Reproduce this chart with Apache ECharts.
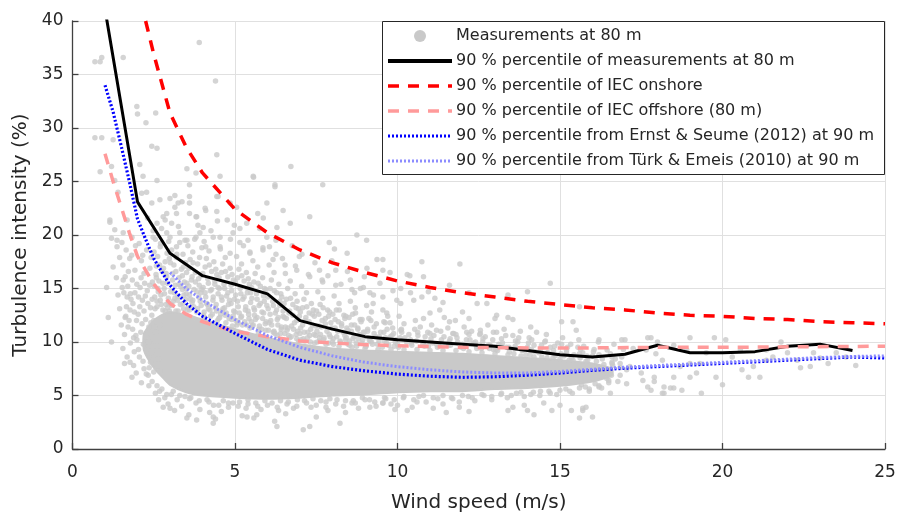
<!DOCTYPE html>
<html>
<head>
<meta charset="utf-8">
<script src="https://cdn.jsdelivr.net/npm/echarts@6/dist/echarts.min.js"></script>
<style>html,body{margin:0;padding:0;background:#fff}#c{width:899px;height:515px}</style>
</head>
<body>
<div id="c"></div>
<script>
// ---- data ----
var xTicks = [0, 5, 10, 15, 20, 25];
var yTicks = [0, 5, 10, 15, 20, 25, 30, 35, 40];

var names = [
  'Measurements at 80 m',
  '90 % percentile of measurements at 80 m',
  '90 % percentile of IEC onshore',
  '90 % percentile of IEC offshore (80 m)',
  '90 % percentile from Ernst & Seume (2012) at 90 m',
  '90 % percentile from Türk & Emeis (2010) at 90 m'
];

// dense core of the measurement cloud (where the dots merge into a solid area)
var coreX    = [2.2, 2.5, 2.8, 3, 3.5, 4, 5, 6, 7, 8, 9, 10, 11, 12, 13, 14, 15, 16, 16.6];
var coreHigh = [10.8, 12.0, 12.6, 12.8, 12.5, 12.1, 11.2, 10.4, 9.8, 9.4, 9.2, 9.1, 9.0, 8.9, 8.7, 8.5, 8.3, 8.0, 7.5];
var coreLow  = [9.2, 7.6, 6.6, 6.0, 5.3, 5.0, 4.8, 4.7, 4.8, 5.0, 5.1, 5.3, 5.4, 5.4, 5.6, 5.7, 5.9, 6.3, 6.9];

// individual measurement dots outside / around the dense core
var measurements = [
[0.69,36.2],[0.9,36.6],[0.85,36.2],[1.56,36.6],[3.9,38.0],[4.4,34.4],[1.98,32.0],[2.0,31.3],[2.56,31.4],[2.26,30.5],
[0.69,29.1],[0.9,29.1],[1.25,28.9],[2.44,28.3],[2.6,28.1],[2.07,26.6],[4.44,27.5],[0.85,25.9],[2.17,25.5],[2.6,25.1],
[3.52,26.2],[3.8,25.8],[4.54,25.5],[5.56,25.5],[6.72,26.4],[6.23,24.5],[5.98,23.0],[4.48,23.6],[4.44,22.2],[5.05,22.6],
[5.15,20.6],[5.4,19.5],[5.7,22.0],[5.87,21.6],[6.29,20.7],[6.26,19.5],
[1.2,26.4],[1.3,25.1],[1.4,24.0],[2.13,23.9],[2.28,24.0],[2.69,23.3],[2.44,23.0],[3.0,23.4],[3.15,22.6],[3.37,23.1],
[3.6,23.6],[2.79,21.7],[2.85,21.4],[3.2,22.0],[3.82,21.7],[4.02,20.7],[1.15,21.2],[1.3,20.5],[1.37,19.5],[1.56,20.2],
[1.68,21.4],[1.83,19.8],[2.9,20.2],[3.3,20.2],[3.52,19.5],[3.92,20.2],[4.33,19.8],[4.54,18.9],[4.94,20.2],
[1.15,21.4],[1.2,19.7],[1.37,18.9],[1.45,17.9],[1.56,15.8],[1.53,15.1],[1.68,14.2],[1.4,14.4],[1.77,13.0],[1.71,11.4],
[1.2,10.0],[1.77,8.1],[1.83,6.7],[1.62,12.3],[1.98,10.2],
[3.15,23.7],[3.25,23.0],[3.6,22.0],[3.8,21.7],[4.1,22.3],[3.6,24.7],[2.9,22.0],[2.48,19.8],[2.6,21.1],[3.0,19.8],
[3.2,18.9],[3.46,19.5],[3.8,19.8],[4.1,18.9],[4.54,19.8],[4.85,18.3],[5.15,19.3],[5.46,18.3],[5.86,18.8],[6.17,17.7],
[6.54,17.2],[6.9,16.7],[7.3,16.1],[7.7,15.6],[8.1,15.3],[8.6,14.9],[9.15,14.6],[9.55,14.2],
[5.57,25.4],[6.23,24.7],[7.7,24.7],[7.3,21.7],[8.75,20.0],[9.05,19.5],[9.37,17.7],[9.55,16.7],[8.45,18.3],[7.9,19.3],
[7.6,16.7],[8.1,16.7],[8.55,15.8],[8.95,15.1],[9.25,13.6],[6.7,21.1],[6.48,22.3],[5.36,21.1],[4.85,23.0],[4.44,23.6],
[3.6,23.0],[3.05,21.1],
[9.55,17.7],[10.75,17.5],[11.92,17.3],[14.7,15.5],[9.77,16.5],[10.3,16.3],[10.38,16.2],[10.8,16.1],[11.6,15.3],[10.1,15.0],
[10.4,14.6],[10.75,14.2],[10.95,14.7],[11.15,14.1],[11.4,13.7],[10.1,13.6],[10.5,13.9],[11.0,12.7],[11.3,13.0],[10.8,12.2],
[11.6,11.9],[12.0,12.8],[12.2,12.2],[13.05,12.5],[13.0,12.2],[13.4,12.3],[13.55,12.1],[13.4,14.4],[14.0,14.7],[14.1,11.4],
[15.05,11.9],[15.4,11.9],[15.5,11.1],[12.95,10.9],[12.55,10.8],[11.8,10.7],[11.0,10.8],[10.1,11.1],[9.67,12.7],[9.77,11.8],
[12.2,14.6],[12.45,13.6],[12.75,13.6],[15.6,13.3],[17.0,10.2],[17.7,10.4],[18.0,10.0],[18.5,9.7],[19.0,10.4],[16.45,9.25],
[16.6,8.6],[16.85,8.0],[17.05,7.4],[17.5,7.1],[17.9,6.7],[17.9,6.3],[18.2,5.8],[18.5,5.7],[18.75,5.5],[18.2,5.2],
[17.7,5.8],[17.55,6.4],[19.0,6.7],[19.2,7.1],
[13.9,4.1],[14.0,3.6],[14.2,3.2],[14.5,4.3],[14.75,3.6],[15.0,4.1],[15.35,3.6],[15.6,2.9],[15.7,3.8],[13.4,3.6],
[13.55,3.9],[12.2,3.5],[11.9,3.9],[11.5,3.4],[11.1,3.8],[10.45,3.9],[10.6,4.4],[10.0,4.1],[9.55,4.3],
[2.05,19.2],[2.12,17.6],[2.2,16.4],[2.08,15.1],[2.3,14.8],[2.15,13.9],[2.4,13.2],[2.02,12.6],[2.25,12.1],[2.35,11.4],
[2.1,10.9],[2.45,10.3],[2.18,9.8],[2.3,9.2],[2.06,8.6],[2.4,8.1],[2.2,7.5],[2.33,6.9],[2.12,6.2],[2.42,17.9],
[2.28,18.6],[2.38,16.9],[2.46,15.6],[2.22,15.5],[2.03,14.2],[2.44,12.5],[2.14,11.7],[2.26,10.5],[2.48,9.6],[2.36,7.6],
[2.48,20.4],[2.31,21.6],
[1.55,17.2],[1.62,16.1],[1.7,15.2],[1.58,14.6],[1.8,14.0],[1.66,13.3],[1.9,12.8],[1.74,12.0],[1.85,11.2],[1.6,10.7],
[1.95,10.6],[1.78,9.9],[1.9,9.1],[1.68,8.6],[1.88,7.8],[1.96,7.1],[1.82,18.1],[1.92,16.7],[1.76,17.8],[1.98,15.4],
[1.86,13.6],[1.64,12.4],[1.94,19.0],[1.52,19.3],
[2.55,19.6],[2.7,18.9],[2.62,18.0],[2.85,17.5],[2.58,17.1],[2.76,16.6],[2.9,16.1],[2.66,15.7],[2.52,15.2],[2.82,15.0],
[2.72,14.4],[2.95,14.1],[2.6,13.8],[2.88,13.5],[2.78,13.0],[2.54,13.1],[2.98,12.9],[2.68,5.4],[2.84,4.8],[2.94,4.2],
[2.6,5.9],[2.74,20.6],[2.96,19.4],[2.57,16.3],[2.8,16.9],[2.92,15.5],[2.64,14.7],
[3.05,18.6],[3.2,17.9],[3.12,17.2],[3.35,16.8],[3.08,16.4],[3.28,16.0],[3.44,15.6],[3.16,15.3],[3.38,14.9],[3.02,14.7],
[3.24,14.3],[3.48,14.0],[3.1,13.8],[3.32,13.5],[3.42,13.1],[3.18,12.9],[3.04,5.1],[3.22,4.6],[3.36,4.0],[3.14,3.6],
[3.46,4.9],[3.3,19.3],[3.4,18.2],[3.26,20.8],[3.48,17.4],
[3.55,19.0],[3.7,18.4],[3.62,17.7],[3.85,17.3],[3.58,16.9],[3.78,16.5],[3.95,16.2],[3.66,15.8],[3.52,15.5],[3.9,15.3],
[3.74,14.9],[3.6,14.4],[3.88,14.2],[3.68,13.7],[3.96,13.4],[3.56,13.2],[3.82,12.8],[3.72,12.2],[3.64,4.8],[3.8,4.3],
[3.92,3.7],[3.58,3.2],[3.86,20.9],[3.98,18.8],[3.76,19.6],
[4.05,19.4],[4.2,18.5],[4.12,17.8],[4.35,17.5],[4.08,17.0],[4.28,16.6],[4.44,16.3],[4.16,15.9],[4.38,15.4],[4.02,15.1],
[4.24,14.8],[4.48,14.5],[4.1,14.2],[4.32,13.9],[4.42,13.5],[4.18,13.1],[4.3,12.6],[4.06,12.3],[4.46,12.0],[4.14,4.6],
[4.34,4.1],[4.22,3.4],[4.4,2.8],[4.26,20.4],[4.46,21.3],[4.08,22.5],
[4.55,18.7],[4.7,17.9],[4.62,17.3],[4.85,16.9],[4.58,16.5],[4.78,16.1],[4.95,15.8],[4.66,15.4],[4.52,15.0],[4.9,14.8],
[4.74,14.3],[4.6,13.9],[4.88,13.6],[4.68,13.2],[4.96,12.9],[4.56,12.6],[4.82,12.2],[4.72,11.8],[4.92,11.5],[4.64,4.5],
[4.8,3.9],[4.94,4.3],[4.58,3.5],[4.86,19.6],[4.98,20.9],[4.76,21.4],
[5.05,18.0],[5.2,17.3],[5.12,16.8],[5.35,16.5],[5.08,16.0],[5.28,15.7],[5.44,15.4],[5.16,15.0],[5.38,14.6],[5.02,14.4],
[5.24,14.0],[5.48,13.7],[5.1,13.3],[5.32,13.0],[5.42,12.6],[5.18,12.3],[5.3,11.9],[5.06,11.6],[5.46,11.3],[5.14,4.4],
[5.34,3.8],[5.22,3.1],[5.4,4.6],[5.26,19.0],[5.46,18.4],
[5.55,17.6],[5.7,17.0],[5.62,16.4],[5.85,16.0],[5.58,15.6],[5.78,15.2],[5.95,14.9],[5.66,14.5],[5.52,14.1],[5.9,13.8],
[5.74,13.4],[5.6,13.0],[5.88,12.7],[5.68,12.3],[5.96,11.9],[5.56,11.6],[5.82,11.2],[5.72,10.8],[5.64,4.3],[5.8,3.7],
[5.92,4.5],[5.58,2.9],[5.86,18.6],[5.98,19.8],[5.76,20.6],
[6.05,17.2],[6.2,16.5],[6.12,15.8],[6.35,15.4],[6.08,15.0],[6.28,14.6],[6.44,14.2],[6.16,13.8],[6.38,13.4],[6.02,13.1],
[6.24,12.7],[6.48,12.4],[6.1,12.0],[6.32,11.6],[6.42,11.2],[6.18,10.9],[6.3,10.6],[6.14,4.3],[6.34,3.6],[6.22,2.6],
[6.4,4.5],[6.26,18.2],[6.46,17.8],[6.06,18.9],
[6.55,16.4],[6.7,15.7],[6.62,15.0],[6.85,14.5],[6.58,14.0],[6.78,13.5],[6.95,13.1],[6.66,12.7],[6.52,12.3],[6.9,12.0],
[6.74,11.5],[6.6,11.1],[6.88,10.7],[6.68,10.4],[6.96,10.1],[6.64,4.4],[6.8,3.8],[6.92,4.6],[6.56,3.3],[6.86,17.1],
[6.98,18.0],[6.76,19.0],
[7.05,15.2],[7.2,14.6],[7.12,14.0],[7.35,13.6],[7.08,13.2],[7.28,12.7],[7.44,12.4],[7.16,12.0],[7.38,11.6],[7.02,11.3],
[7.24,10.9],[7.48,10.6],[7.1,10.3],[7.32,10.0],[7.14,4.5],[7.34,3.9],[7.4,4.7],[7.26,16.3],[7.46,17.4],[7.06,18.2],
[7.55,14.7],[7.7,14.1],[7.62,13.5],[7.85,13.0],[7.58,12.6],[7.78,12.2],[7.95,11.8],[7.66,11.4],[7.52,11.0],[7.9,10.7],
[7.74,10.4],[7.6,10.1],[7.88,9.9],[7.64,4.5],[7.8,3.9],[7.92,4.7],[7.86,16.2],[7.98,17.6],[7.68,15.8],
[8.05,14.3],[8.2,13.6],[8.12,13.0],[8.35,12.5],[8.08,12.1],[8.28,11.7],[8.44,11.3],[8.16,11.0],[8.38,10.6],[8.02,10.3],
[8.24,10.0],[8.48,9.8],[8.14,4.6],[8.34,4.0],[8.4,3.4],[8.26,15.4],[8.46,16.6],[8.06,18.7],
[8.55,13.8],[8.7,13.2],[8.62,12.6],[8.85,12.1],[8.58,11.6],[8.78,11.2],[8.95,10.9],[8.66,10.5],[8.52,10.1],[8.9,9.9],
[8.74,9.6],[8.64,4.5],[8.8,3.8],[8.92,4.8],[8.86,15.0],[8.98,16.1],[8.68,14.6],
[9.05,13.4],[9.2,12.8],[9.12,12.2],[9.35,11.7],[9.08,11.2],[9.28,10.8],[9.44,10.5],[9.16,10.1],[9.38,9.8],[9.02,9.6],
[9.14,4.6],[9.34,4.0],[9.26,14.4],[9.46,15.5],[9.06,16.9],
[9.55,13.0],[9.7,12.4],[9.62,11.8],[9.85,11.3],[9.58,10.9],[9.78,10.5],[9.95,10.2],[9.66,9.9],[9.9,9.6],[9.64,4.7],
[9.8,4.2],[9.92,3.7],[9.86,14.8],[9.98,13.9],
[10.05,12.4],[10.2,11.7],[10.12,11.2],[10.35,10.7],[10.08,10.4],[10.28,10.0],[10.44,9.7],[10.18,4.8],[10.3,3.6],
[10.55,12.0],[10.7,11.4],[10.62,10.9],[10.85,10.5],[10.58,10.1],[10.78,9.8],[10.95,9.6],[10.66,4.9],[10.88,4.4],
[11.05,11.6],[11.2,11.1],[11.12,10.6],[11.35,10.2],[11.08,9.9],[11.28,9.6],[11.44,12.3],[11.24,4.7],[11.4,4.2],
[11.55,11.3],[11.7,10.8],[11.62,10.3],[11.85,10.0],[11.58,9.7],[11.78,12.0],[11.95,9.5],[11.66,4.8],[11.9,4.4],
[12.05,11.4],[12.2,10.7],[12.12,10.2],[12.35,9.9],[12.08,9.6],[12.28,11.0],[12.44,9.4],[12.18,4.9],[12.38,4.5],
[12.55,11.1],[12.7,10.5],[12.62,10.0],[12.85,9.7],[12.58,9.4],[12.78,11.6],[12.95,9.3],[12.66,5.0],[12.9,4.6],
[13.05,10.9],[13.2,10.3],[13.12,9.8],[13.35,9.5],[13.08,9.2],[13.28,11.2],[13.44,9.1],[13.18,5.1],[13.38,4.8],
[13.55,10.6],[13.7,10.0],[13.62,9.6],[13.85,9.2],[13.58,8.9],[13.78,11.0],[13.95,8.8],[13.66,5.2],[13.9,4.9],
[14.05,10.4],[14.2,9.7],[14.12,9.3],[14.35,9.0],[14.08,8.8],[14.28,10.9],[14.44,8.6],[14.18,5.3],[14.38,5.0],
[14.55,10.1],[14.7,9.5],[14.62,9.0],[14.85,8.7],[14.58,10.7],[14.78,8.5],[14.66,5.4],[14.9,5.1],
[15.05,9.8],[15.2,9.2],[15.12,8.7],[15.35,8.5],[15.08,10.4],[15.28,8.3],[15.18,5.6],[15.38,5.2],
[15.55,9.5],[15.7,9.0],[15.62,8.5],[15.85,8.3],[15.58,10.2],[15.78,5.8],[15.9,5.4],[15.66,6.0],
[16.05,9.3],[16.2,8.8],[16.12,8.2],[16.35,7.9],[16.08,6.1],[16.28,5.7],[16.44,6.6],[16.18,10.0],
[16.55,8.9],[16.7,8.4],[16.62,7.8],[16.85,7.6],[16.58,6.9],[16.78,6.3],[16.95,9.3],[16.66,9.8],
[16.2,10.2],[16.9,10.2],[17.25,9.4],[16.9,8.6],[16.6,8.0],[17.15,7.7],[16.85,6.9],[16.5,6.4],[16.2,5.8],[16.55,5.2],
[17.05,6.1],[17.65,9.25],[17.8,10.4],[17.95,8.9],[18.15,8.3],[17.8,5.5],[18.15,5.2],[18.4,5.7],[18.7,7.7],[18.5,6.7],
[19.0,8.0],[18.9,9.25],[19.35,5.2],[19.3,8.0],[19.75,10.4],[19.8,6.7],[20.0,6.0],[20.3,8.6],[20.6,7.4],[20.95,7.7],
[21.15,6.7],[21.8,10.0],[21.35,8.3],[22.0,9.0],[22.3,8.3],[22.4,7.6],[22.8,9.0],[23.0,8.5],[23.25,8.0],[23.5,9.0],
[23.8,8.6],[24.1,7.8],[22.7,7.7],[21.55,8.6],[20.55,9.25],[20.8,6.7],[16.0,3.0],[15.8,3.9],[15.7,3.6],[19.5,9.0],
[20.1,10.2],[21.35,9.25],
[2.79,3.9],[3.0,3.8],[3.52,2.9],[3.82,2.7],[4.33,3.0],[4.33,2.4],[5.37,3.0],[5.67,3.2],[6.29,2.1],[7.1,1.8],
[7.3,2.1],[7.5,3.0],[8.23,2.4],[7.86,3.6],[8.6,4.3],[9.15,3.9],[9.55,4.3],
[2.6,13.3],[2.7,13.9],[2.85,12.9],[2.95,13.7],[3.05,13.4],[3.15,14.1],[3.25,12.9],[3.4,13.6],[3.5,14.5],[3.6,13.0],
[3.7,13.9],[3.85,13.1],[3.95,14.6],[4.05,12.8],[4.15,13.5],[4.25,12.4],[4.4,13.2],[4.5,12.2],[4.6,12.9],[4.7,12.5],
[4.8,13.5],[4.9,12.1],[5.0,12.8],[5.1,11.8],[5.2,12.4],[5.35,11.6],[5.4,12.9],[5.5,11.9],[5.6,12.5],[5.75,11.5],
[5.85,12.2],[5.95,11.1],[6.05,11.8],[6.2,11.0],[6.3,12.1],[6.4,10.8],[6.55,11.4],[6.65,10.6],[6.8,11.2],[6.9,10.3],
[7.0,10.8],[7.15,10.1],[7.3,10.6],[7.45,9.9],[7.6,10.4],[7.8,9.8],[8.0,10.0],[8.2,9.6],[8.4,10.2],[8.6,9.5],
[8.8,10.3],[9.0,9.4],[9.2,10.0],[9.4,9.3],[9.6,10.1],[9.8,9.3],[10.0,9.8],[10.2,9.3],[10.4,10.2],[10.6,9.3],
[10.8,10.0],[11.0,9.2],[11.2,9.8],[11.4,9.2],[11.6,10.1],[11.8,9.2],[12.0,9.8],[12.2,9.1],[12.4,10.0],[12.6,9.0],
[12.8,9.7],[13.0,8.9],[13.2,9.6],[13.4,8.8],[13.6,9.4],[13.8,8.7],[14.0,9.5],[14.2,8.6],[14.4,9.3],[14.6,8.5],
[14.8,9.2],[15.0,8.4],[15.2,9.0],[15.4,8.3],[15.6,8.9],[15.8,8.2],[16.0,8.7],[16.3,8.4],[16.6,8.1],
[3.1,5.4],[3.3,5.0],[3.6,4.7],[3.9,4.5],[4.2,4.4],[4.5,4.1],[4.8,4.3],[5.1,4.0],[5.4,4.2],[5.7,4.0],
[6.0,4.1],[6.3,3.9],[6.6,4.2],[6.9,4.0],[7.2,4.3],[7.5,4.1],[7.8,4.4],[8.1,4.2],[8.4,4.5],[8.7,4.3],
[9.0,4.6],[9.3,4.4],[9.6,4.8],[9.9,4.6],[10.2,4.9],[10.5,4.6],[10.8,5.0],[11.1,4.8],[11.4,5.0],[11.7,4.7],
[12.0,5.0],[12.3,4.8],[12.6,5.1],[12.9,4.9],[13.2,5.2],[13.5,5.0],[13.8,5.3],[14.1,5.1],[14.4,5.4],[14.7,5.2],
[15.0,5.5],[15.3,5.4],[15.6,5.7],[15.9,5.6],[16.2,5.9],[16.5,6.2],
[2.53,14.2],[2.63,15.0],[2.73,13.5],[2.83,14.5],[2.93,13.2],[2.58,16.0],[2.68,17.2],[2.78,15.5],[2.88,16.4],[2.98,17.8],
[2.51,18.4],[2.71,19.2],[2.91,18.3],
[3.03,13.5],[3.13,14.6],[3.23,13.9],[3.33,15.2],[3.43,14.4],[3.08,15.8],[3.18,16.6],[3.28,15.4],[3.38,16.2],[3.48,15.0],
[3.01,17.4],[3.21,18.2],[3.41,17.0],
[3.53,13.0],[3.63,14.0],[3.73,13.3],[3.83,14.7],[3.93,13.8],[3.58,15.2],[3.68,16.1],[3.78,15.6],[3.88,15.9],[3.98,14.9],
[3.51,16.5],[3.71,17.4],[3.91,17.9],
[4.03,12.5],[4.13,13.6],[4.23,13.0],[4.33,14.2],[4.43,12.9],[4.08,14.6],[4.18,15.5],[4.28,14.9],[4.38,15.7],[4.48,15.1],
[4.01,16.4],[4.21,17.2],[4.41,16.8],
[4.53,12.3],[4.63,13.1],[4.73,12.7],[4.83,13.9],[4.93,12.4],[4.58,14.2],[4.68,15.0],[4.78,14.6],[4.88,15.3],[4.98,14.0],
[4.51,16.0],[4.71,16.6],[4.91,16.3],
[5.03,12.0],[5.13,12.7],[5.23,11.6],[5.33,13.3],[5.43,12.2],[5.08,13.8],[5.18,14.5],[5.28,14.2],[5.38,15.0],[5.48,14.6],
[5.01,15.6],[5.21,16.2],[5.41,15.9],
[5.53,11.5],[5.63,12.1],[5.73,11.2],[5.83,12.8],[5.93,11.7],[5.58,13.2],[5.68,14.0],[5.78,13.6],[5.88,14.3],[5.98,13.4],
[5.51,15.1],[5.71,15.5],[5.91,15.0],
[6.03,11.1],[6.13,11.6],[6.23,10.8],[6.33,12.3],[6.43,11.4],[6.08,12.6],[6.18,13.4],[6.28,13.0],[6.38,13.8],[6.48,12.9],
[6.01,14.2],[6.21,14.8],[6.41,14.5],
[6.53,10.8],[6.63,11.3],[6.73,10.5],[6.83,11.8],[6.93,11.0],[6.58,12.2],[6.68,12.9],[6.78,12.5],[6.88,13.2],[6.98,12.4],
[6.51,13.6],[6.71,14.1],[6.91,13.8],
[7.03,10.2],[7.13,10.9],[7.23,10.4],[7.33,11.2],[7.43,10.7],[7.08,11.6],[7.18,12.3],[7.28,11.9],[7.38,12.6],[7.48,11.5],
[7.01,12.8],[7.21,13.3],[7.41,13.0],
[7.53,10.0],[7.63,10.7],[7.73,10.2],[7.83,11.0],[7.93,10.5],[7.58,11.5],[7.68,12.0],[7.78,11.7],[7.88,12.4],[7.98,11.3],
[7.51,12.9],[7.71,13.2],[7.91,12.8],
[8.03,9.8],[8.13,10.5],[8.23,10.1],[8.33,10.9],[8.43,10.4],[8.08,11.3],[8.18,11.9],[8.28,11.5],[8.38,12.2],[8.48,11.1],
[8.01,12.6],[8.21,13.0],[8.41,12.4],
[8.53,9.7],[8.63,10.3],[8.73,9.9],[8.83,10.7],[8.93,10.2],[8.58,11.0],[8.68,11.6],[8.78,11.3],[8.88,11.9],[8.98,10.9],
[8.51,12.3],[8.71,12.7],[8.91,12.1],
[9.03,9.6],[9.13,10.2],[9.23,9.8],[9.33,10.5],[9.43,10.1],[9.53,9.5],[9.63,10.4],[9.73,9.7],[9.83,10.6],[9.93,10.0],
[9.08,11.0],[9.28,11.4],[9.48,10.9],[9.68,11.2],[9.88,10.8],[9.18,12.0],[9.58,11.9],
[10.03,9.5],[10.23,10.4],[10.43,9.9],[10.63,10.6],[10.83,9.6],[11.03,10.3],[11.23,9.5],[11.43,10.5],[11.63,9.7],[11.83,10.4],
[12.03,9.4],[12.23,10.2],[12.43,9.6],[12.63,10.3],[12.83,9.4],[10.13,10.9],[10.53,11.2],[10.93,10.9],[11.33,11.0],[11.73,10.8],
[12.13,10.9],[12.53,10.7],[12.93,10.2],
[13.03,9.3],[13.23,9.9],[13.43,9.5],[13.63,10.1],[13.83,9.2],[14.03,9.9],[14.23,9.1],[14.43,9.7],[14.63,9.0],[14.83,9.6],
[15.03,8.9],[15.23,9.5],[15.43,8.8],[15.63,9.3],[15.83,8.7],[16.03,9.1],[13.33,10.6],[13.73,10.4],[14.13,10.2],[14.53,10.0],
[14.93,9.9],[15.33,9.8],[15.73,9.6],
[1.05,15.1],[1.1,12.3],[1.25,17.0],[1.35,16.0],[1.45,13.1],[1.5,11.6],[1.55,9.4],[1.6,8.0],[1.65,18.6],[1.72,16.6],
[1.78,14.5],[1.84,15.8],[1.88,10.4],[1.92,14.6],[1.97,12.0],[2.03,9.3],[2.07,13.3],[2.11,16.0],[2.16,18.1],[2.2,12.9],
[2.24,14.3],[2.27,7.0],[2.32,13.6],[2.37,15.3],[2.41,11.8],[2.45,14.0],[2.47,8.8],[2.5,12.0],[2.34,10.0],[2.17,8.2],
[2.35,5.9],[2.45,6.3],[2.55,5.2],[2.65,4.6],[2.75,5.6],[2.9,5.1],[2.5,7.2],[2.42,9.0],[2.56,10.9],[2.64,8.4],
[2.7,11.6],[2.52,11.4],[2.6,9.6],[2.68,7.3]
];

var measP90 = [[1,41.1],[2,23.1],[3,18.3],[4,16.2],[5,15.4],[6,14.5],[7,12.0],[8,11.2],[9,10.5],[10,10.2],[11,10.0],[12,9.8],
  [13,9.6],[14,9.2],[15,8.8],[16,8.6],[17,8.85],[18,9.7],[19,9.0],[20,9.0],[21,9.1],[22,9.6],[23,9.8],[24,9.2]];
var iecOnshore = [[2.25,40],[2.5,36.9],[3,31.4],[3.5,28.2],[4,25.8],[5,22.4],[6,20.2],[7,18.6],[8,17.4],[9,16.5],[10,15.7],
  [11,15.1],[12,14.6],[13,14.2],[14,13.8],[15,13.5],[16,13.2],[17,13.0],[18,12.7],[19,12.5],[20,12.4],[21,12.2],[22,12.1],
  [23,11.9],[24,11.8],[25,11.7]];
var iecOffshore = [[1,27.6],[1.25,25.0],[1.5,22.6],[1.75,20.2],[2,18.0],[2.5,15.4],[3,13.6],[3.5,12.6],[4,11.9],[4.5,11.4],
  [5,11.0],[6,10.5],[7,10.1],[8,9.9],[9,9.75],[10,9.65],[12,9.5],[14,9.45],[16,9.45],[18,9.5],[20,9.5],[22,9.55],[25,9.6]];
var ernstSeume = [[1,34],[1.25,31.5],[1.5,28.3],[1.75,25.0],[2,21.5],[2.25,19.6],[2.5,17.8],[3,15.3],[3.5,13.6],[4,12.4],
  [4.5,11.6],[5,10.8],[6,9.3],[7,8.3],[8,7.7],[9,7.3],[10,7.0],[11,6.8],[12,6.7],[13,6.75],[14,6.9],[15,7.1],[16,7.35],
  [17,7.55],[18,7.7],[19,7.85],[20,8.0],[21,8.15],[22,8.3],[23,8.45],[24,8.6],[25,8.5]];
var turkEmeis = [[3,16.5],[3.5,15.0],[4,13.9],[5,12.1],[6,10.6],[7,9.5],[8,8.7],[9,8.1],[10,7.7],[11,7.4],[12,7.2],[13,7.1],
  [14,7.1],[15,7.25],[16,7.45],[17,7.65],[18,7.8],[19,7.95],[20,8.1],[21,8.25],[22,8.4],[23,8.55],[24,8.65],[25,8.7]];

// ---- styles ----
var FONT = 'DejaVu Sans';
var TXT = '#262626';
var GREY = '#c9c9c9';
var lineStyles = [
  null,
  {color: '#000000', width: 3, type: 'solid'},
  {color: '#ff0000', width: 3.5, type: [11, 9]},
  {color: '#ff9a9a', width: 3.5, type: [11, 9]},
  {color: '#0000ff', width: 3.2, type: [2, 2]},
  {color: '#8c8cff', width: 3, type: [2, 2]}
];
var lineData = [null, measP90, iecOnshore, iecOffshore, ernstSeume, turkEmeis];

var chart = echarts.init(document.getElementById('c'), null, {renderer: 'canvas'});

var series = [
  {
    type: 'custom', name: 'core', silent: true, z: 1, clip: true,
    data: [[coreX[0], coreLow[0]]],
    renderItem: function (params, api) {
      var pts = [];
      for (var i = 0; i < coreX.length; i++) pts.push(api.coord([coreX[i], coreHigh[i]]));
      for (var j = coreX.length - 1; j >= 0; j--) pts.push(api.coord([coreX[j], coreLow[j]]));
      return {type: 'polygon', shape: {points: pts, smooth: 0.2}, style: {fill: GREY, stroke: GREY, lineWidth: 2}};
    }
  },
  {
    type: 'scatter', name: names[0], data: measurements, symbol: 'circle', symbolSize: 5.5,
    itemStyle: {color: GREY}, silent: true, z: 2, emphasis: {disabled: true}
  }
];
for (var k = 1; k < names.length; k++) {
  var ls = lineStyles[k];
  series.push({
    type: 'line', name: names[k], data: lineData[k], symbol: 'none', smooth: false, clip: true,
    lineStyle: {color: ls.color, width: ls.width, type: ls.type, cap: 'butt'},
    itemStyle: {color: ls.color}, emphasis: {disabled: true}, silent: true, z: 3
  });
}

// legend drawn as graphic elements (box top-right inside plot)
var LEG = {left: 382, top: 21, width: 502, height: 153, iconX1: 388, iconX2: 452, textX: 456, row0: 36, rowStep: 25};
var legendElements = [{
  type: 'rect', z: 100, silent: true,
  shape: {x: LEG.left + 0.5, y: LEG.top + 0.5, width: LEG.width, height: LEG.height},
  style: {fill: '#ffffff', stroke: '#262626', lineWidth: 1}
}];
for (var r = 0; r < names.length; r++) {
  var yc = LEG.row0 + r * LEG.rowStep;
  if (r === 0) {
    legendElements.push({type: 'circle', z: 101, silent: true,
      shape: {cx: (LEG.iconX1 + LEG.iconX2) / 2, cy: yc, r: 6}, style: {fill: GREY}});
  } else {
    var s = lineStyles[r];
    legendElements.push({
      type: 'line', z: 101, silent: true, shape: {x1: LEG.iconX1, y1: yc, x2: LEG.iconX2, y2: yc},
      style: {stroke: s.color, lineWidth: s.width + (r === 1 ? 0.8 : 0), lineDash: s.type === 'solid' ? null : s.type, lineCap: 'butt'}
    });
  }
  legendElements.push({
    type: 'text', z: 101, silent: true, x: LEG.textX, y: yc,
    style: {text: names[r], fill: TXT, font: '16px "' + FONT + '"', verticalAlign: 'middle', align: 'left'}
  });
}

chart.setOption({
  animation: false,
  backgroundColor: '#fff',
  textStyle: {fontFamily: FONT},
  grid: {left: 72.5, right: 14, top: 21, bottom: 66, containLabel: false, outerBoundsMode: 'none'},
  xAxis: {
    type: 'value', min: xTicks[0], max: xTicks[xTicks.length - 1], interval: 5,
    name: 'Wind speed (m/s)', nameLocation: 'middle', nameGap: 44,
    nameTextStyle: {fontFamily: FONT, fontSize: 20, color: TXT},
    axisLine: {show: true, onZero: false, lineStyle: {color: '#404040', width: 1.3}},
    axisTick: {show: true, inside: true, length: 6, lineStyle: {color: '#404040', width: 1.3}},
    axisLabel: {fontFamily: FONT, fontSize: 17, color: TXT, margin: 15},
    splitLine: {show: true, lineStyle: {color: '#e0e0e0', width: 1}}
  },
  yAxis: {
    type: 'value', min: yTicks[0], max: yTicks[yTicks.length - 1], interval: 5,
    name: 'Turbulence intensity (%)', nameLocation: 'middle', nameGap: 40,
    nameTextStyle: {fontFamily: FONT, fontSize: 20, color: TXT},
    axisLine: {show: true, onZero: false, lineStyle: {color: '#404040', width: 1.3}},
    axisTick: {show: true, inside: true, length: 6, lineStyle: {color: '#404040', width: 1.3}},
    axisLabel: {fontFamily: FONT, fontSize: 17, color: TXT, margin: 9},
    splitLine: {show: true, lineStyle: {color: '#e0e0e0', width: 1}}
  },
  graphic: {elements: legendElements},
  series: series
});
</script>
</body>
</html>
